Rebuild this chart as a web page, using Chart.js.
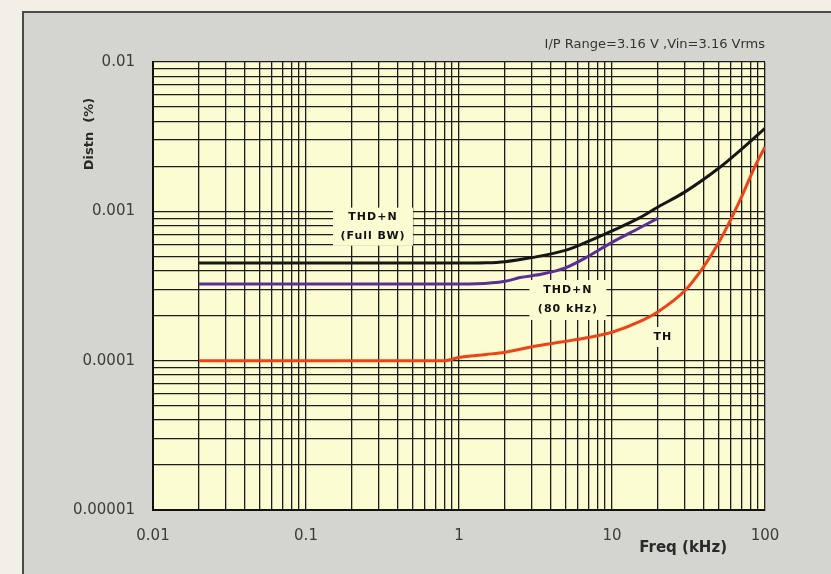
<!DOCTYPE html>
<html>
<head>
<meta charset="utf-8">
<script src="https://cdn.jsdelivr.net/npm/chart.js@4.4.1/dist/chart.umd.min.js"></script>
<style>
  html, body { margin: 0; padding: 0; background: #f2f0e6; }
  #wrap { width: 831px; height: 574px; position: relative; }
</style>
</head>
<body>
<div id="wrap"><canvas id="chart"></canvas></div>
<script>
// values (freq in kHz, distortion in %)
let freqFull = [0.02, 0.1, 0.5, 1, 1.5, 2, 3, 5, 7, 10, 15, 20, 30, 50, 70, 100];
let thdFull  = [0.00045, 0.00045, 0.00045, 0.00045, 0.000452, 0.00046, 0.00049, 0.00055, 0.00063, 0.00074, 0.0009, 0.00107, 0.00135, 0.00195, 0.0026, 0.0036];

let freq80 = [0.02, 0.1, 0.5, 1, 1.3, 2, 2.5, 3.5, 5, 7, 10, 15, 20];
let thd80  = [0.000326, 0.000326, 0.000326, 0.000326, 0.000327, 0.00034, 0.00036, 0.00038, 0.00042, 0.0005, 0.00062, 0.00077, 0.0009];

let freqTH = [0.02, 0.1, 0.5, 0.8, 1, 1.5, 2, 3, 5, 7, 10, 15, 20, 30, 40, 50, 60, 70, 85, 100];
let th     = [0.0001, 0.0001, 0.0001, 0.0001, 0.000105, 0.00011, 0.000114, 0.000124, 0.000135, 0.000143, 0.000155, 0.000182, 0.000213, 0.000295, 0.00043, 0.00062, 0.00089, 0.00124, 0.00195, 0.0027];

let xTickLabels = ['0.01', '0.1', '1', '10', '100'];
let yTickLabels = ['0.00001', '0.0001', '0.001', '0.01'];

// annotation text placed at (freq, value)
let notes = [
  {lines: ['THD+N', '(Full BW)'], f: 0.274, v: 0.00079, w: 80, h: 38},
  {lines: ['THD+N', '(80 kHz)'], f: 5.15, v: 0.000255, w: 77, h: 40},
  {lines: ['TH'], f: 21.5, v: 0.000144, w: 30, h: 20}
];

function pts(xs, ys){
  return xs.map((x, i) => ({x: x, y: ys[i]}));
}

function logTicks(scale){
  let lo = Math.round(Math.log10(scale.min));
  let hi = Math.round(Math.log10(scale.max));
  let t = [];
  for (let e = lo; e < hi; e++) {
    for (let m = 1; m < 10; m++) t.push({value: m * Math.pow(10, e)});
  }
  t.push({value: Math.pow(10, hi)});
  scale.ticks = t;
}

function tickText(labels, min){
  return function(value){
    let l = Math.log10(value);
    if (Math.abs(l - Math.round(l)) > 1e-6) return '';
    return labels[Math.round(l - Math.log10(min))] || '';
  };
}

const decor = {
  id: 'decor',
  beforeDraw(chart){
    let c = chart.ctx, a = chart.chartArea;
    c.save();
    c.fillStyle = '#f2f0e6';
    c.fillRect(0, 0, chart.width, chart.height);
    c.fillStyle = '#d5d5cf';
    c.fillRect(22, 11, chart.width - 22, chart.height - 11);
    c.strokeStyle = '#4a4a4a';
    c.lineWidth = 2;
    c.beginPath();
    c.moveTo(23, chart.height);
    c.lineTo(23, 12);
    c.lineTo(chart.width, 12);
    c.stroke();
    c.fillStyle = '#fbfcd2';
    c.fillRect(a.left, a.top, a.right - a.left, a.bottom - a.top);
    c.restore();
  },
  beforeDatasetsDraw(chart){
    let c = chart.ctx;
    let xs = chart.scales.x, ys = chart.scales.y;
    c.save();
    c.font = 'bold 11px "DejaVu Sans"';
    c.letterSpacing = '1px';
    c.textAlign = 'center';
    c.textBaseline = 'middle';
    notes.forEach(n => {
      let cx = xs.getPixelForValue(n.f), cy = ys.getPixelForValue(n.v);
      c.fillStyle = '#fbfcd2';
      c.fillRect(cx - n.w / 2, cy - n.h / 2, n.w, n.h);
      c.fillStyle = '#111';
      let step = 19;
      let y0 = cy - (n.lines.length - 1) * step / 2;
      n.lines.forEach((s, i) => c.fillText(s, cx, y0 + i * step));
    });
    c.restore();
  },
  afterDraw(chart){
    let c = chart.ctx, a = chart.chartArea;
    c.save();
    c.fillStyle = '#333';
    c.font = '13px "DejaVu Sans"';
    c.textAlign = 'right';
    c.textBaseline = 'middle';
    c.fillText('I/P Range=3.16 V ,Vin=3.16 Vrms', a.right, 45);

    c.font = 'bold 15px "DejaVu Sans"';
    c.fillStyle = '#2a2a2a';
    c.textAlign = 'right';
    c.fillText('Freq (kHz)', a.right - 38, 548);

    c.translate(90, 134);
    c.rotate(-Math.PI / 2);
    c.textAlign = 'center';
    c.font = 'bold 13px "DejaVu Sans"';
    c.fillText('Distn  (%)', 0, 0);
    c.restore();
  }
};

let ctx = document.getElementById('chart').getContext('2d');

var myChart = new Chart(ctx, {
  type: 'scatter',
  data: {
    datasets: [{
      label: 'THD+N (Full BW)',
      data: pts(freqFull, thdFull),
      borderColor: '#161616',
      borderWidth: 3
    }, {
      label: 'THD+N (80 kHz)',
      data: pts(freq80, thd80),
      borderColor: '#5b2f96',
      borderWidth: 3
    }, {
      label: 'TH',
      data: pts(freqTH, th),
      borderColor: '#ec4418',
      borderWidth: 3
    }]
  },
  options: {
    responsive: true,
    maintainAspectRatio: false,
    animation: false,
    showLine: true,
    elements: {
      point: { radius: 0, hoverRadius: 0 },
      line: { tension: 0.4, cubicInterpolationMode: 'monotone' }
    },
    layout: { padding: { top: 62, right: 66, left: 0, bottom: 0 } },
    plugins: { legend: { display: false }, tooltip: { enabled: false } },
    scales: {
      x: {
        type: 'logarithmic',
        min: 0.01,
        max: 100,
        afterBuildTicks: logTicks,
        afterFit(s){ s.height = 64; },
        grid: { color: '#1c1c1c', lineWidth: 1.3, drawTicks: false },
        border: { display: true, color: '#111', width: 2 },
        ticks: {
          autoSkip: false, maxRotation: 0, padding: 17,
          color: '#3c3c3c', font: { family: 'DejaVu Sans', size: 15 },
          callback: tickText(xTickLabels, 0.01)
        }
      },
      y: {
        type: 'logarithmic',
        min: 0.00001,
        max: 0.01,
        afterBuildTicks: logTicks,
        afterFit(s){ s.width = 153; },
        grid: { color: '#1c1c1c', lineWidth: 1.3, drawTicks: false },
        border: { display: true, color: '#111', width: 2 },
        ticks: {
          autoSkip: false, padding: 18,
          color: '#3c3c3c', font: { family: 'DejaVu Sans', size: 15 },
          callback: tickText(yTickLabels, 0.00001)
        }
      }
    }
  },
  plugins: [decor]
});
</script>
</body>
</html>
